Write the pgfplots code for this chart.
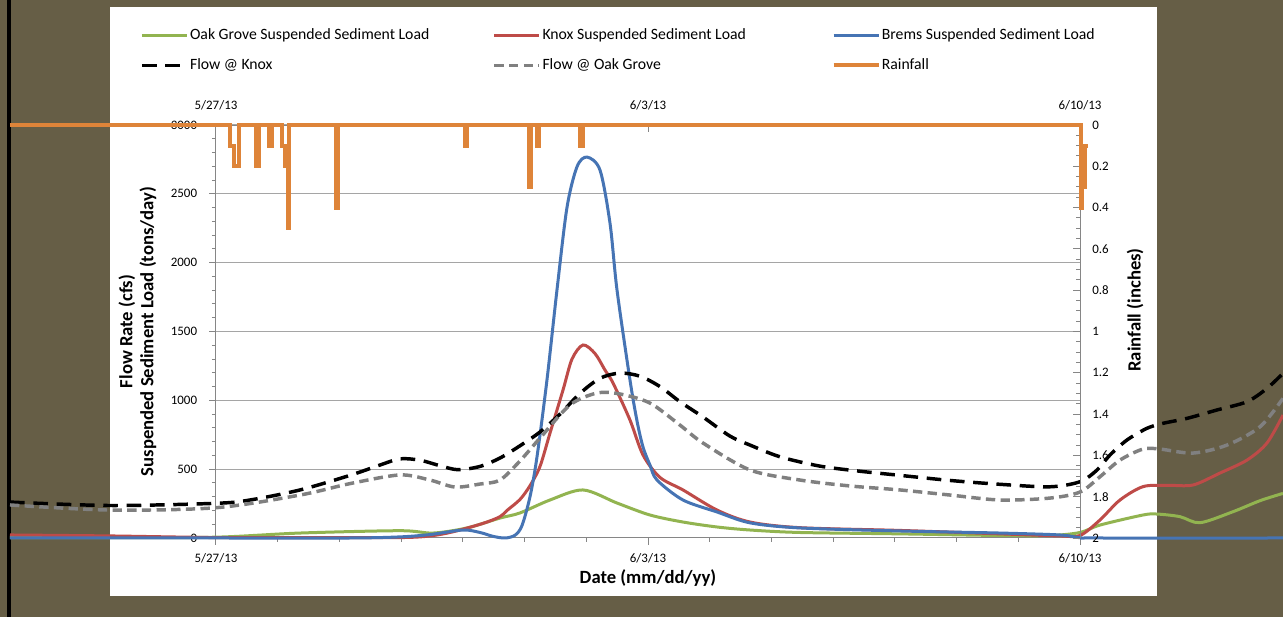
\documentclass[border=0pt]{standalone}
\usepackage{pgfplots}
\pgfplotsset{compat=1.18}
\usepackage{fontspec}
\setmainfont{Carlito}
\definecolor{bgbrown}{RGB}{102,94,70}
\definecolor{cgreen}{RGB}{146,180,80}
\definecolor{cred}{RGB}{190,75,72}
\definecolor{cblue}{RGB}{70,116,180}
\definecolor{corange}{RGB}{222,132,57}
\definecolor{cgray}{RGB}{128,128,128}
\definecolor{axgray}{RGB}{134,134,134}
\definecolor{gridgray}{RGB}{165,165,165}
\begin{document}
\begin{tikzpicture}
\useasboundingbox (-162pt,-59.25pt) rectangle (800.25pt,403.5pt);
\fill[bgbrown] (-162pt,-59.25pt) rectangle (800.25pt,403.5pt);
\fill[white] (-79.5pt,-43.5pt) rectangle (705.75pt,398pt);
\fill[black] (-156.5pt,-59.25pt) rectangle (-154pt,403.5pt);
\clip (-162pt,-59.25pt) rectangle (800.25pt,403.5pt);
\begin{axis}[
  width=648pt, height=309.75pt, scale only axis,
  xmin=0, xmax=14, ymin=0, ymax=3000,
  clip=false,
  axis x line*=bottom, axis y line*=left,
  axis line style={axgray, line width=0.75pt},
  xtick={0,7,14}, xticklabels={5/27/13,6/3/13,6/10/13},
  minor x tick num=6,
  ytick={0,500,1000,1500,2000,2500,3000}, minor y tick num=4,
  tick style={axgray, line width=0.75pt},
  major tick length=5pt, minor tick length=3pt,
  tick align=outside,
  ymajorgrids, grid style={gridgray, line width=0.75pt},
  ticklabel style={font=\fontsize{9.7}{11}\selectfont},
  /pgf/number format/assume math mode=true,
  /pgf/number format/1000 sep={},
  xticklabel style={anchor=center, yshift=-10.5pt},
  yticklabel style={anchor=east, inner sep=0pt},
  yticklabel shift=9pt,
  xlabel={Date (mm/dd/yy)},
  ylabel={Flow Rate (cfs)\\Suspended Sediment Load (tons/day)},
  every axis x label/.style={at={(axis description cs:0.5,-0.0969)}, anchor=center, font=\bfseries\fontsize{14}{15.75}\selectfont},
  every axis y label/.style={at={(axis description cs:-0.0909,0.5)}, rotate=90, anchor=center, align=center, font=\bfseries\fontsize{14}{15.75}\selectfont},
  legend columns=3,
  legend cell align=left,
  legend style={at={(-0.08796,1.2353)}, anchor=north west, draw=none, fill=none, inner sep=0pt,
    row sep=11.5pt, font=\fontsize{11.8}{14}\selectfont,
    nodes={inner sep=0pt, text height=8.5pt, text depth=2.5pt},
    /tikz/every odd column/.append style={column sep=1pt}},
  legend image code/.code={\draw[#1] (0pt,0pt) -- (33.75pt,0pt);},
]
\addplot[cgreen, line width=2.25pt, smooth] coordinates {
(-3.338,3) (-1.718,3) (0,6) (1.361,36) (2.981,53) (3.516,36) (4.067,73) (4.602,145) (4.926,182) (5.412,276) (5.947,349) (6.498,254) (7.032,167) (7.567,116) (8.118,80) (8.653,58) (9.463,40) (11.083,30) (12.704,18) (13.514,18) (14.0,40) (14.324,94) (15.021,167) (15.248,174) (15.620,155) (15.944,111) (16.479,191) (16.917,271) (17.289,324)
};
\addlegendentry{\makebox[227pt][l]{Oak Grove Suspended Sediment Load}}
\addplot[cred, line width=2.25pt, smooth] coordinates {
(-3.338,22) (-1.718,15) (0,3) (1.361,2) (2.981,3) (3.468,15) (3.840,45) (4.326,106) (4.602,155) (4.715,200) (4.926,280) (5.088,380) (5.250,520) (5.412,762) (5.623,1075) (5.769,1300) (5.947,1402) (6.141,1340) (6.303,1220) (6.433,1126) (6.708,857) (6.919,603) (7.194,440) (7.567,349) (8.118,203) (8.653,116) (9.463,75) (11.083,55) (12.704,30) (13.676,15) (14.0,18) (14.324,131) (14.648,276) (15.021,373) (15.410,383) (15.831,385) (16.269,472) (16.706,566) (17.030,690) (17.289,893)
};
\addlegendentry{\makebox[216.75pt][l]{Knox Suspended Sediment Load}}
\addplot[cblue, line width=2.25pt, smooth] coordinates {
(-3.338,0) (0,0) (2.171,0) (2.981,8) (3.468,25) (4.002,58) (4.278,40) (4.488,12) (4.683,0) (4.845,20) (4.958,90) (5.088,300) (5.201,588) (5.363,1148) (5.525,1801) (5.687,2400) (5.850,2697) (6.012,2767) (6.222,2673) (6.384,2288) (6.498,1801) (6.708,1148) (6.822,850) (6.919,661) (7.032,530) (7.146,421) (7.567,276) (8.118,189) (8.653,110) (9.463,73) (11.083,51) (12.704,36) (13.676,22) (14.0,2) (14.324,0) (17.289,0)
};
\addlegendentry{Brems Suspended Sediment Load}
\addplot[black, line width=2.6pt, smooth, dash pattern=on 11pt off 6.5pt] coordinates {
(-3.338,261) (-1.718,236) (0,252) (0.551,276) (1.361,349) (2.171,455) (2.657,530) (2.981,575) (3.306,565) (3.630,525) (3.921,496) (4.278,520) (4.602,581) (4.926,670) (5.250,770) (5.574,900) (5.898,1050) (6.222,1160) (6.546,1198) (6.870,1175) (7.194,1100) (7.518,990) (7.891,879) (8.329,740) (8.653,675) (9.139,590) (9.787,522) (10.435,485) (11.083,455) (11.894,418) (12.704,390) (13.514,372) (14.0,409) (14.276,494) (14.486,603) (14.762,712) (15.086,797) (15.345,833) (15.734,869) (16.220,930) (16.706,990) (17.030,1087) (17.289,1196)
};
\addlegendentry{\makebox[227pt][l]{Flow @ Knox}}
\addplot[cgray, line width=2.6pt, smooth, dash pattern=on 7pt off 4pt] coordinates {
(-3.338,240) (-1.718,203) (0,220) (1.361,312) (2.171,395) (2.981,458) (3.468,421) (3.873,370) (4.278,392) (4.602,421) (4.926,560) (5.250,726) (5.736,966) (6.174,1053) (6.546,1046) (7.032,980) (7.518,820) (7.891,690) (8.653,494) (9.463,421) (10.273,378) (11.083,349) (11.894,312) (12.704,276) (13.514,290) (14.0,334) (14.324,445) (14.648,566) (15.021,646) (15.297,646) (15.831,617) (16.382,675) (16.917,808) (17.289,1014)
};
\addlegendentry{\makebox[216.75pt][l]{Flow @ Oak Grove}}
\addlegendimage{corange, line width=3pt}
\addlegendentry{Rainfall}
\end{axis}
\begin{axis}[
  width=648pt, height=309.75pt, scale only axis,
  xmin=0, xmax=14, ymin=0, ymax=2, y dir=reverse,
  clip=false,
  axis x line*=top, axis y line*=right,
  axis line style={axgray, line width=0.75pt},
  xtick={0,7,14}, xticklabels={5/27/13,6/3/13,6/10/13},
  ytick={0,0.2,0.4,0.6,0.8,1,1.2,1.4,1.6,1.8,2}, minor y tick num=3,
  tick style={axgray, line width=0.75pt},
  major tick length=5pt, minor tick length=3pt,
  tick align=inside,
  ticklabel style={font=\fontsize{9.7}{11}\selectfont},
  /pgf/number format/assume math mode=true,
  xticklabel style={anchor=center, yshift=15pt},
  yticklabel style={anchor=west, inner sep=0pt, xshift=9pt},
  ylabel={Rainfall (inches)},
  every axis y label/.style={at={(axis description cs:1.0637,0.552)}, rotate=90, anchor=center, font=\bfseries\fontsize{14}{15.75}\selectfont},
]
\addplot[corange, line width=3pt] coordinates {
(-3.338,0) (0.232,0) (0.232,0.1) (0.292,0.1) (0.292,0.2) (0.368,0.2) (0.368,0) (0.653,0) (0.653,0.2) (0.692,0.2) (0.692,0) (0.864,0) (0.864,0.1) (0.907,0.1) (0.907,0) (1.07,0) (1.07,0.1) (1.12,0.1) (1.12,0.2) (1.16,0.2) (1.16,0.5) (1.185,0.5) (1.185,0) (1.945,0) (1.945,0.4) (1.977,0.4) (1.977,0) (4.030,0) (4.030,0.1) (4.072,0.1) (4.072,0) (5.067,0) (5.067,0.3) (5.100,0.3) (5.100,0) (5.202,0) (5.202,0.1) (5.229,0.1) (5.229,0) (5.899,0) (5.899,0.1) (5.947,0.1) (5.947,0) (14.01,0) (14.01,0.4) (14.033,0.4) (14.033,0.3) (14.08,0.3) (14.08,0.1) (14.135,0.1)
};
\end{axis}
\end{tikzpicture}
\end{document}
